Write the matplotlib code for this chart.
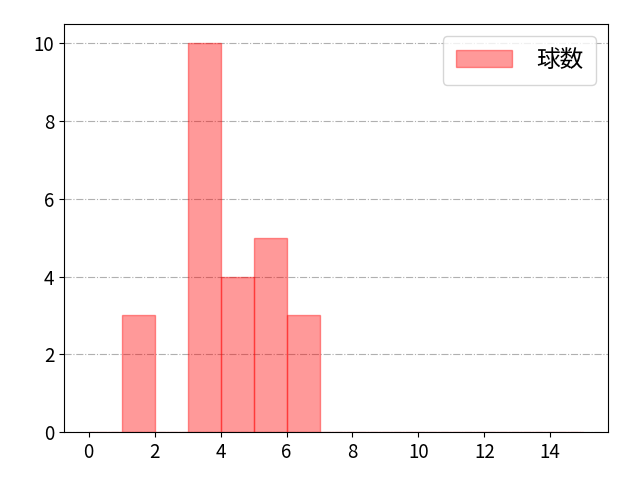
import matplotlib
matplotlib.use("Agg")
import matplotlib.pyplot as plt

plt.rcParams['font.family'] = ['Noto Sans CJK JP', 'DejaVu Sans']

# histogram bins (width 1, from 0 to 15) and counts
bin_edges = list(range(0, 16))
bin_left = [1, 3, 4, 5, 6]
counts = [3, 10, 4, 5, 3]

fig, ax = plt.subplots(figsize=(6.4, 4.8), dpi=100)
ax.hist(bin_left, bins=bin_edges, weights=counts,
        color='red', alpha=0.4, edgecolor='red', linewidth=1, label='球数')
ax.grid(axis='y', linestyle='-.', color='#b0b0b0', linewidth=0.8)
ax.set_axisbelow(True)
ax.set_xticks(range(0, 16, 2))
ax.tick_params(labelsize=13.5)
ax.legend(fontsize=17, loc='upper right', handlelength=2.4, handletextpad=1.0,
          borderpad=0.55, borderaxespad=0.5)
fig.subplots_adjust(left=0.1, right=0.95, top=0.95, bottom=0.1)
fig.savefig('out.png')
